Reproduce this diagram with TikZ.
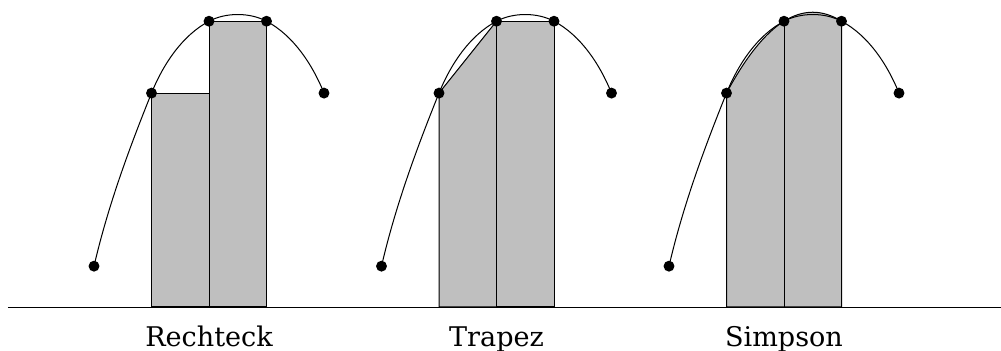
\documentclass[tikz,border=0pt]{standalone}
\usepackage{fontspec}
\setmainfont{DejaVu Serif}
\usepackage{tikz}
\usetikzlibrary{positioning}

\begin{document}
\begin{tikzpicture}[x=1cm, y=1cm]
			\tikzstyle{Dot}		= [circle, fill=black, minimum size=1.9mm, inner sep=0pt]
			\tikzstyle{Area}	= [fill=black!25, draw=black, line width=0.5pt]
			\tikzstyle{Curve}	= [line width=0.5pt, looseness=0.85]
			\tikzstyle{Name}	= [anchor=base, font=\fontsize{13.4}{16}\selectfont]
			
			\useasboundingbox (-1.635,-0.765) rectangle (15.774,5.339);
			
			% Rechteck
			\coordinate (r0) at (0,0.71);
			\coordinate (r1) at (1,3.72);
			\coordinate (r2) at (2,4.97);
			\coordinate (r3) at (3,4.97);
			\coordinate (r4) at (4,3.72);
			\draw [Area] (1,0) -- (r1) -- (r1 -| r2) -- (2,0) -- cycle;
			\draw [Area] (2,0) -- (r2) -- (r3) -- (3,0) -- cycle;
			\draw [Curve] (r0) to[out=77, in=248] (r1) to[out=68, in=208] (r2)
				to[out=28, in=152] (r3) to[out=-28, in=112] (r4);
			
			% Trapez
			\coordinate (t0) at (5,0.71);
			\coordinate (t1) at (6,3.72);
			\coordinate (t2) at (7,4.97);
			\coordinate (t3) at (8,4.97);
			\coordinate (t4) at (9,3.72);
			\draw [Area] (6,0) -- (t1) -- (t2) -- (7,0) -- cycle;
			\draw [Area] (7,0) -- (t2) -- (t3) -- (8,0) -- cycle;
			\draw [Curve] (t0) to[out=77, in=248] (t1) to[out=68, in=208] (t2)
				to[out=28, in=152] (t3) to[out=-28, in=112] (t4);
			
			% Simpson
			\coordinate (s0) at (10,0.71);
			\coordinate (s1) at (11,3.72);
			\coordinate (s2) at (12,4.97);
			\coordinate (s3) at (13,4.97);
			\coordinate (s4) at (14,3.72);
			\draw [Area] (11,0) -- (s1) .. controls (11.667,4.97) and (12.333,5.387) .. (s3) -- (13,0) -- cycle;
			\draw (12,0) -- (s2);
			\draw [Curve] (s0) to[out=77, in=248] (s1) to[out=68, in=208] (s2)
				to[out=28, in=152] (s3) to[out=-28, in=112] (s4);
			
			% Punkte
			\foreach \p in {r,t,s}
				\foreach \i in {0,...,4}
					\node [Dot] (\p\i-dot) at (\p\i) {};
			
			% Achse
			\coordinate (axl) at (-1.496,0);
			\coordinate (axr) at (15.774,0);
			\draw (axl) -- (axr);
			
			\node (rechteck) at (2,-0.69) [Name] {Rechteck};
			\node (trapez) at (7,-0.69) [Name] {Trapez};
			\node (simpson) at (12,-0.69) [Name] {Simpson};
		\end{tikzpicture}
\end{document}
